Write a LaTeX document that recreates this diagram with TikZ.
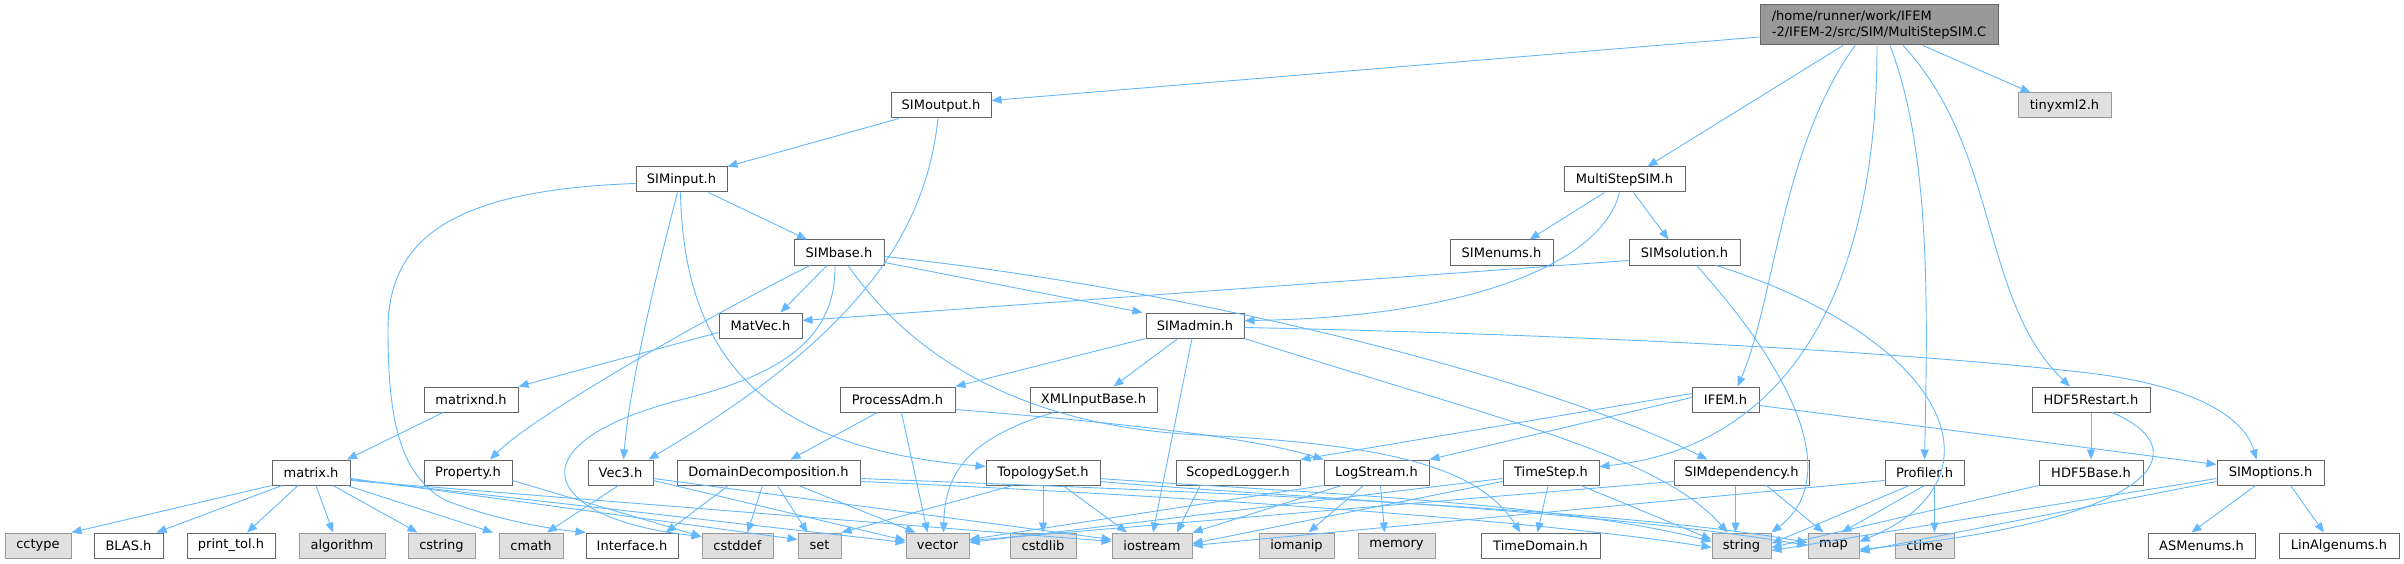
\documentclass[tikz,border=0pt]{standalone}
\usepackage{fontspec}
\setmainfont{DejaVu Sans}
\usetikzlibrary{arrows.meta}
\definecolor{edgec}{HTML}{63B8FF}
\definecolor{bord}{HTML}{666666}
\definecolor{extb}{HTML}{999999}
\definecolor{extf}{HTML}{E0E0E0}
\definecolor{rootf}{HTML}{999999}
\begin{document}
\begin{tikzpicture}[x=1pt,y=-1pt,
  box/.style={draw=bord, fill=white, line width=1pt, minimum height=25pt, inner sep=0pt, font=\fontsize{13}{16}\selectfont},
  ext/.style={box, draw=extb, fill=extf},
  e/.style={draw=edgec, line width=0.9pt, -{Triangle[length=10pt,width=8pt]}},
]
\useasboundingbox (0,0) rectangle (2404,564);
% row 0
\node[box, fill=rootf, minimum width=238pt, minimum height=40pt, align=left] (root) at (1879,25) {/home/runner/work/IFEM\\-2/IFEM-2/src/SIM/MultiStepSIM.C};
% row 1
\node[box, minimum width=100pt] (SIMoutput) at (941,105.5) {SIMoutput.h};
\node[ext, minimum width=93pt] (tinyxml) at (2064.5,105.5) {tinyxml2.h};
% row 2
\node[box, minimum width=91pt] (SIMinput) at (681.5,179.5) {SIMinput.h};
\node[box, minimum width=121pt] (MSSIM) at (1624.5,179.5) {MultiStepSIM.h};
% row 3
\node[box, minimum width=90pt] (SIMbase) at (839,252.5) {SIMbase.h};
\node[box, minimum width=103pt] (SIMenums) at (1501.5,252.5) {SIMenums.h};
\node[box, minimum width=111pt] (SIMsolution) at (1684.5,252.5) {SIMsolution.h};
% row 4
\node[box, minimum width=83pt] (MatVec) at (760.5,325.5) {MatVec.h};
\node[box, minimum width=98pt] (SIMadmin) at (1195,325.5) {SIMadmin.h};
% row 5
\node[box, minimum width=94pt] (matrixnd) at (471,399.5) {matrixnd.h};
\node[box, minimum width=115pt] (ProcessAdm) at (897.5,399.5) {ProcessAdm.h};
\node[box, minimum width=127pt] (XMLInputBase) at (1093.5,399.5) {XMLInputBase.h};
\node[box, minimum width=67pt] (IFEM) at (1725.5,399.5) {IFEM.h};
\node[box, minimum width=118pt] (HDF5Restart) at (2091,399.5) {HDF5Restart.h};
% row 6
\node[box, minimum width=78pt] (matrix) at (311,472.5) {matrix.h};
\node[box, minimum width=88pt] (Property) at (468,472.5) {Property.h};
\node[box, minimum width=65pt] (Vec3) at (620.5,472.5) {Vec3.h};
\node[box, minimum width=183pt] (DomDec) at (768.5,472.5) {DomainDecomposition.h};
\node[box, minimum width=114pt] (TopologySet) at (1043,472.5) {TopologySet.h};
\node[box, minimum width=124pt] (ScopedLogger) at (1238,472.5) {ScopedLogger.h};
\node[box, minimum width=105pt] (LogStream) at (1376.5,472.5) {LogStream.h};
\node[box, minimum width=96pt] (TimeStep) at (1551,472.5) {TimeStep.h};
\node[box, minimum width=135pt] (SIMdep) at (1741.5,472.5) {SIMdependency.h};
\node[box, minimum width=79pt] (Profiler) at (1924.5,472.5) {Profiler.h};
\node[box, minimum width=104pt] (HDF5Base) at (2091,472.5) {HDF5Base.h};
\node[box, minimum width=107pt] (SIMoptions) at (2270.5,472.5) {SIMoptions.h};
% row 7
\node[ext, minimum width=66pt] (cctype) at (38,545.5) {cctype};
\node[box, minimum width=69pt] (BLAS) at (128.5,545.5) {BLAS.h};
\node[box, minimum width=88pt] (printtol) at (231,545.5) {print\_tol.h};
\node[ext, minimum width=86pt] (algorithm) at (342,545.5) {algorithm};
\node[ext, minimum width=67pt] (cstring) at (441.5,545.5) {cstring};
\node[ext, minimum width=64pt] (cmath) at (531,545.5) {cmath};
\node[box, minimum width=92pt] (Interface) at (632,545.5) {Interface.h};
\node[ext, minimum width=71pt] (cstddef) at (737.5,545.5) {cstddef};
\node[ext, minimum width=43pt] (set) at (819.5,545.5) {set};
\node[ext, minimum width=63pt] (vector) at (937.5,545.5) {vector};
\node[ext, minimum width=66pt] (cstdlib) at (1043,545.5) {cstdlib};
\node[ext, minimum width=80pt] (iostream) at (1152,545.5) {iostream};
\node[ext, minimum width=75pt] (iomanip) at (1296.5,545.5) {iomanip};
\node[ext, minimum width=77pt] (memory) at (1396.5,545.5) {memory};
\node[box, minimum width=119pt] (TimeDomain) at (1540.5,545.5) {TimeDomain.h};
\node[ext, minimum width=59pt] (string) at (1741.5,545.5) {string};
\node[ext, minimum width=51pt] (map) at (1833.5,545.5) {map};
\node[ext, minimum width=59pt] (ctime) at (1924.5,545.5) {ctime};
\node[box, minimum width=107pt] (ASMenums) at (2201.5,545.5) {ASMenums.h};
\node[box, minimum width=120pt] (LinAlg) at (2339,545.5) {LinAlgenums.h};

% ---- edges from root
\draw[e] ([yshift=-12]root.west) -- ([yshift=5]SIMoutput.east);
\draw[e] ([xshift=-36]root.south) -- ([xshift=23]MSSIM.north);
\draw[e] ([xshift=-24]root.south) .. controls (1780,150) and (1775,300) .. ([xshift=12]IFEM.north);
\draw[e] ([xshift=-2]root.south) .. controls (1877,330) and (1760,450) .. ([yshift=6]TimeStep.east);
\draw[e] ([xshift=11]root.south) .. controls (1930,150) and (1928,300) .. (Profiler.north);
\draw[e] ([xshift=24]root.south) .. controls (2000,150) and (1980,300) .. ([xshift=-21]HDF5Restart.north);
\draw[e] ([xshift=44]root.south) -- ([xshift=-34]tinyxml.north);
% SIMoutput
\draw[e] ([xshift=-42]SIMoutput.south) -- (SIMinput.north east);
\draw[e] ([xshift=-3]SIMoutput.south) .. controls (925,240) and (850,340) .. ([xshift=28]Vec3.north);
% SIMinput
\draw[e] ([xshift=27]SIMinput.south) -- ([xshift=-32]SIMbase.north);
\draw[e] ([xshift=-4]SIMinput.south) .. controls (660,260) and (630,380) .. ([xshift=3]Vec3.north);
\draw[e] ([xshift=-1]SIMinput.south) .. controls (684,380) and (790,450) .. ([yshift=6]TopologySet.west);
\draw[e] ([yshift=-4]SIMinput.west) .. controls (450,190) and (388,240) .. (388,330) .. controls (388,420) and (400,475) .. (445,500) .. controls (500,522) and (560,530) .. (Interface.north west);
% MultiStepSIM.h
\draw[e] ([xshift=-20]MSSIM.south) -- ([xshift=28]SIMenums.north);
\draw[e] ([xshift=9]MSSIM.south) -- ([xshift=-16]SIMsolution.north);
\draw[e] ([xshift=-5]MSSIM.south) .. controls (1600,270) and (1450,318) .. ([yshift=5]SIMadmin.east);
% SIMbase
\draw[e] ([xshift=-12]SIMbase.south) -- ([xshift=20]MatVec.north);
\draw[e] ([xshift=-29]SIMbase.south) .. controls (740,300) and (540,410) .. ([xshift=22]Property.north);
\draw[e] ([yshift=-10]SIMbase.east) -- ([xshift=-3]SIMadmin.north west);
\draw[e] ([yshift=-4]SIMbase.east) .. controls (1200,290) and (1550,380) .. ([xshift=-34]SIMdep.north);
\draw[e] ([xshift=-4]SIMbase.south) .. controls (836,340) and (780,375) .. (680,400) .. controls (565,430) and (550,470) .. (575,495) .. controls (600,522) and (660,532) .. ([yshift=9]cstddef.west);
\draw[e] ([xshift=9]SIMbase.south) .. controls (900,340) and (1000,425) .. (1200,435) .. controls (1400,445) and (1480,470) .. ([xshift=-20]TimeDomain.north);
% SIMsolution
\draw[e] ([yshift=-8]SIMsolution.west) -- ([yshift=5]MatVec.east);
\draw[e] ([xshift=12]SIMsolution.south) .. controls (1800,380) and (1840,480) .. (string.north east);
\draw[e] ([xshift=32]SIMsolution.south) .. controls (1950,340) and (2010,480) .. ([yshift=4]map.east);
% SIMadmin
\draw[e] (SIMadmin.south west) -- (ProcessAdm.north east);
\draw[e] ([xshift=-17]SIMadmin.south) -- ([xshift=20]XMLInputBase.north);
\draw[e] ([xshift=-3]SIMadmin.south) -- ([xshift=1]iostream.north);
\draw[e] (SIMadmin.south east) .. controls (1500,420) and (1660,455) .. ([xshift=-14]string.north);
\draw[e] ([yshift=-2]SIMadmin.east) .. controls (1600,335) and (1900,352) .. (2080,372) .. controls (2200,385) and (2245,420) .. ([xshift=-14]SIMoptions.north);
% MatVec, matrixnd
\draw[e] ([yshift=6]MatVec.south west) -- (matrixnd.north east);
\draw[e] ([xshift=-28]matrixnd.south) -- ([xshift=36]matrix.north);
% ProcessAdm
\draw[e] ([xshift=-20]ProcessAdm.south) -- ([xshift=22]DomDec.north);
\draw[e] ([xshift=4]ProcessAdm.south) -- ([xshift=-10]vector.north);
\draw[e] ([yshift=-10]ProcessAdm.east) .. controls (1150,425) and (1260,440) .. (LogStream.north west);
% XMLInputBase
\draw[e] ([xshift=-40]XMLInputBase.south) .. controls (960,440) and (945,480) .. ([xshift=6]vector.north);
% IFEM
\draw[e] ([yshift=6]IFEM.west) -- (ScopedLogger.north east);
\draw[e] ([yshift=2]IFEM.west) -- (LogStream.north east);
\draw[e] ([yshift=-6]IFEM.east) -- ([yshift=8]SIMoptions.west);
% HDF5Restart
\draw[e] (HDF5Restart.south) -- (HDF5Base.north);
\draw[e] ([xshift=21]HDF5Restart.south) .. controls (2200,450) and (2160,520) .. ([yshift=-4]map.east);
% matrix
\draw[e] (matrix.south west) -- (cctype.north east);
\draw[e] ([xshift=-29]matrix.south) -- ([xshift=28]BLAS.north);
\draw[e] ([xshift=-13]matrix.south) -- ([xshift=16]printtol.north);
\draw[e] ([xshift=5]matrix.south) -- ([xshift=-9]algorithm.north);
\draw[e] ([xshift=22]matrix.south) -- ([xshift=-24]cstring.north);
\draw[e] ([xshift=36]matrix.south) -- ([xshift=-38]cmath.north);
\draw[e] ([yshift=-6]matrix.east) -- ([yshift=6]set.west);
\draw[e] ([yshift=-7]matrix.east) -- ([yshift=3]vector.west);
\draw[e] ([yshift=-8]matrix.east) -- ([yshift=4]iostream.west);
% Property
\draw[e] ([yshift=-8]Property.east) -- ([yshift=9]cstddef.west);
% Vec3
\draw[e] ([xshift=-2]Vec3.south) -- ([xshift=16]cmath.north);
\draw[e] ([yshift=-8]Vec3.east) -- ([yshift=5]vector.west);
\draw[e] ([yshift=-6]Vec3.east) -- ([yshift=6]iostream.west);
% DomainDecomposition
\draw[e] ([xshift=-40]DomDec.south) -- ([xshift=34]Interface.north);
\draw[e] ([xshift=-6]DomDec.south) -- ([xshift=10]cstddef.north);
\draw[e] ([xshift=9]DomDec.south) -- ([xshift=-12]set.north);
\draw[e] ([xshift=30]DomDec.south) -- ([xshift=-22]vector.north);
\draw[e] ([yshift=-6]DomDec.east) .. controls (1100,488) and (1600,505) .. ([yshift=3]map.west);
\draw[e] ([yshift=-9]DomDec.east) .. controls (1100,492) and (1500,515) .. ([yshift=-2]string.west);
% TopologySet
\draw[e] ([xshift=-30]TopologySet.south) -- (set.north east);
\draw[e] (TopologySet.south) -- (cstdlib.north);
\draw[e] ([xshift=20]TopologySet.south) -- ([xshift=-25]iostream.north);
\draw[e] ([yshift=-6]TopologySet.east) .. controls (1250,490) and (1550,500) .. ([yshift=4]string.west);
\draw[e] ([yshift=-9]TopologySet.east) .. controls (1250,495) and (1600,510) .. ([yshift=0]map.west);
% ScopedLogger
\draw[e] ([xshift=-38]ScopedLogger.south) -- ([xshift=25]iostream.north);
% LogStream
\draw[e] ([xshift=-35]LogStream.south) -- (iostream.north east);
\draw[e] (LogStream.south west) -- ([yshift=6]vector.east);
\draw[e] ([xshift=-13]LogStream.south) -- ([xshift=12]iomanip.north);
\draw[e] ([xshift=4]LogStream.south) -- ([xshift=-12]memory.north);
% TimeStep
\draw[e] ([xshift=-3]TimeStep.south) -- ([xshift=-3]TimeDomain.north);
\draw[e] ([yshift=-6]TimeStep.west) -- ([yshift=3]vector.east);
\draw[e] ([yshift=-9]TimeStep.west) -- ([yshift=2]iostream.east);
\draw[e] ([xshift=30]TimeStep.south) -- ([yshift=6]string.west);
% SIMdependency
\draw[e] ([xshift=-6]SIMdep.south) -- ([xshift=-6]string.north);
\draw[e] ([xshift=25]SIMdep.south) -- ([xshift=-10]map.north);
\draw[e] ([yshift=-9]SIMdep.west) -- ([yshift=5]vector.east);
% Profiler
\draw[e] ([xshift=-15]Profiler.south) -- ([yshift=2]string.east);
\draw[e] ([xshift=0]Profiler.south) -- ([xshift=8]map.north);
\draw[e] ([xshift=10]Profiler.south) -- ([xshift=10]ctime.north);
\draw[e] ([yshift=-8]Profiler.west) -- ([yshift=0]iostream.east);
% HDF5Base
\draw[e] (HDF5Base.south west) -- ([yshift=-2]string.east);
% SIMoptions
\draw[e] ([xshift=-15]SIMoptions.south) -- ([xshift=-10]ASMenums.north);
\draw[e] ([xshift=20]SIMoptions.south) -- ([xshift=-15]LinAlg.north);
\draw[e] ([yshift=-6]SIMoptions.west) -- ([yshift=-5]string.east);
\draw[e] ([yshift=-9]SIMoptions.west) -- ([yshift=-6]map.east);
\end{tikzpicture}
\end{document}
